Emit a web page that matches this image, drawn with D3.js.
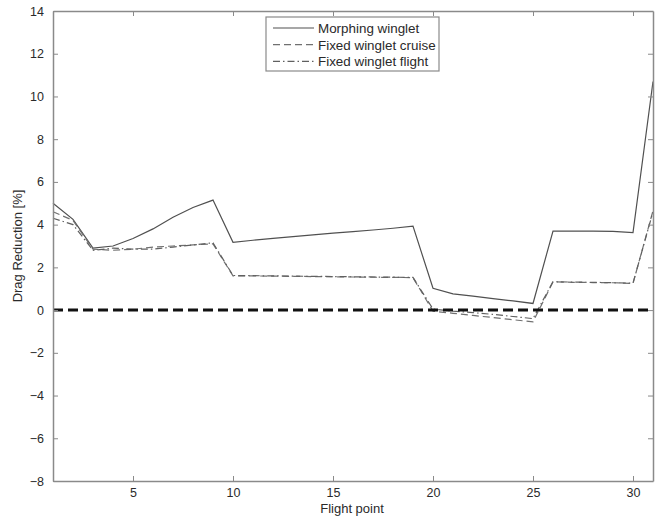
<!DOCTYPE html>
<html>
<head>
<meta charset="utf-8">
<script src="https://cdn.jsdelivr.net/npm/d3@7"></script>
<style>
  html, body { margin: 0; padding: 0; background: #fff; }
  svg { display: block; }
  text { font-family: "Liberation Sans", Arial, Helvetica, sans-serif; fill: #2a2a2a; }
</style>
</head>
<body>
<svg id="chart" width="656" height="516"></svg>
<script>
// Flight points 1..31
const flightPoints = d3.range(1, 32);

// Drag reduction [%] per flight point
const morphingWinglet = [
  5.0, 4.25, 2.9, 3.0, 3.35, 3.8, 4.35, 4.8, 5.15, 3.17,
  3.27, 3.36, 3.44, 3.52, 3.6, 3.67, 3.75, 3.83, 3.93, 1.02,
  0.76, 0.65, 0.54, 0.43, 0.31, 3.7, 3.7, 3.7, 3.68, 3.63,
  10.7
];
const fixedWingletCruise = [
  4.6, 4.2, 2.85, 2.8, 2.85, 2.95, 3.0, 3.05, 3.1, 1.6,
  1.6, 1.59, 1.58, 1.57, 1.56, 1.55, 1.54, 1.53, 1.52, -0.05,
  -0.15, -0.25, -0.35, -0.45, -0.55, 1.32, 1.3, 1.29, 1.28, 1.25,
  4.65
];
const fixedWingletFlight = [
  4.3, 4.0, 2.8, 2.9, 2.85, 2.85, 2.95, 3.05, 3.15, 1.62,
  1.61, 1.6, 1.59, 1.58, 1.57, 1.56, 1.55, 1.54, 1.53, 0.05,
  -0.05, -0.12, -0.2, -0.3, -0.4, 1.33, 1.31, 1.3, 1.28, 1.26,
  4.6
];

const xTicks = [5, 10, 15, 20, 25, 30];
const yTicks = [-8, -6, -4, -2, 0, 2, 4, 6, 8, 10, 12, 14];
const referenceLevel = [0];

const legendItems = [
  { label: "Morphing winglet", values: morphingWinglet, dash: null, color: "#505050" },
  { label: "Fixed winglet cruise", values: fixedWingletCruise, dash: "7,4", color: "#707070" },
  { label: "Fixed winglet flight", values: fixedWingletFlight, dash: "7,3,1.5,3", color: "#606060" }
];

const margin = { left: 53, top: 11, right: 3, bottom: 35 };
const W = 656, H = 516;
const x = d3.scaleLinear().domain([1, 31]).range([margin.left, W - margin.right]);
const y = d3.scaleLinear().domain([-8, 14]).range([H - margin.bottom, margin.top]);

const svg = d3.select("#chart");
const axisColor = "#8a8a8a";

// series lines
const line = d3.line().x((d, i) => x(flightPoints[i])).y(d => y(d));
const g = svg.append("g");
legendItems.forEach(s => {
  g.append("path")
    .datum(s.values)
    .attr("d", line)
    .attr("fill", "none")
    .attr("stroke", s.color)
    .attr("stroke-width", 1.2)
    .attr("stroke-dasharray", s.dash);
});

// thick dashed reference line at zero
g.selectAll(".zero").data(referenceLevel).enter().append("line")
  .attr("x1", x(1)).attr("x2", x(31))
  .attr("y1", d => y(d)).attr("y2", d => y(d))
  .attr("stroke", "#111")
  .attr("stroke-width", 3)
  .attr("stroke-dasharray", "10,5");

// box axes with inward ticks
function styleAxis(sel) {
  sel.select(".domain").attr("stroke", axisColor).attr("stroke-width", 1.5);
  sel.selectAll(".tick line").attr("stroke", axisColor).attr("stroke-width", 1);
  sel.selectAll(".tick text").style("font-size", "12.5px").attr("fill", "#2a2a2a");
}
const tickLen = 5;
svg.append("g").attr("transform", `translate(0,${y(-8)})`)
  .call(d3.axisBottom(x).tickValues(xTicks).tickSizeInner(-tickLen).tickSizeOuter(0).tickPadding(7))
  .call(styleAxis);
svg.append("g").attr("transform", `translate(0,${y(14)})`)
  .call(d3.axisTop(x).tickValues(xTicks).tickSizeInner(-tickLen).tickSizeOuter(0).tickFormat(""))
  .call(styleAxis);
svg.append("g").attr("transform", `translate(${x(1)},0)`)
  .call(d3.axisLeft(y).tickValues(yTicks).tickSizeInner(-tickLen).tickSizeOuter(0).tickPadding(9)
    .tickFormat(d => d < 0 ? "\u2212" + Math.abs(d) : String(d)))
  .call(styleAxis);
svg.append("g").attr("transform", `translate(${x(31)},0)`)
  .call(d3.axisRight(y).tickValues(yTicks).tickSizeInner(-tickLen).tickSizeOuter(0).tickFormat(""))
  .call(styleAxis);
svg.selectAll(".tick text").attr("font-family", null);

// axis titles
svg.append("text")
  .attr("x", (x(1) + x(31)) / 2 - 1).attr("y", 512.5)
  .attr("text-anchor", "middle")
  .style("font-size", "13px")
  .text("Flight point");
svg.append("text")
  .attr("transform", `translate(22,${(y(-8) + y(14)) / 2}) rotate(-90)`)
  .attr("text-anchor", "middle")
  .style("font-size", "13px")
  .text("Drag Reduction [%]");

// legend
const lg = svg.append("g").attr("transform", "translate(266,17)");
lg.append("rect")
  .attr("width", 173).attr("height", 54)
  .attr("fill", "#fff")
  .attr("stroke", axisColor).attr("stroke-width", 1.2);
legendItems.forEach((s, i) => {
  const yy = 11 + i * 16.7;
  lg.append("line")
    .attr("x1", 7).attr("x2", 48)
    .attr("y1", yy).attr("y2", yy)
    .attr("stroke", s.color).attr("stroke-width", 1.2)
    .attr("stroke-dasharray", s.dash);
  lg.append("text")
    .attr("x", 52).attr("y", yy + 4.8)
    .style("font-size", "13.4px")
    .text(s.label);
});
</script>
</body>
</html>
